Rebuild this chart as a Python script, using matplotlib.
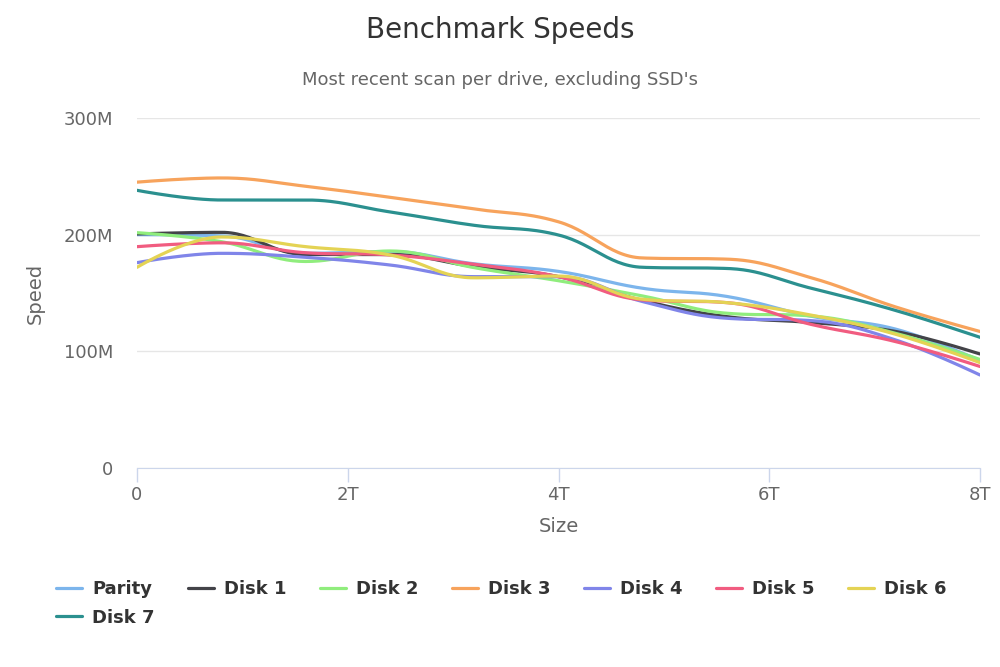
import numpy as np
import matplotlib
matplotlib.use("Agg")
import matplotlib.pyplot as plt

# scan positions (TB) and speeds (MB/s)
sizes = [0, 0.8, 1.6, 2.4, 3.2, 4.0, 4.8, 5.6, 6.4, 7.2, 8.0]

parity = [200, 199, 184, 185.5, 175, 168.5, 154, 147, 130, 119, 92]
disk1 = [200.6, 202, 183, 183, 172.6, 164, 143.5, 129.7, 124.6, 117, 97.7]
disk2 = [201.7, 194, 177, 186, 171.7, 160.5, 147.4, 132.6, 130.3, 115.4, 93]
disk3 = [245, 248.6, 241.5, 232, 222, 211, 180, 179, 163, 138, 117]
disk4 = [176, 184, 180.6, 174, 164, 164, 142.6, 128.3, 126.3, 109.7, 79.7]
disk5 = [189.7, 193, 184.5, 182.6, 174.6, 164, 144, 141.7, 123, 108.3, 87]
disk6 = [172, 198, 189.7, 182.6, 163, 164.5, 144.6, 141.7, 131, 114.6, 90.3]
disk7 = [238, 229.7, 229.7, 219.5, 208, 199.7, 172, 171, 154, 135, 112]

names = ["Parity", "Disk 1", "Disk 2", "Disk 3", "Disk 4", "Disk 5", "Disk 6", "Disk 7"]
series = [parity, disk1, disk2, disk3, disk4, disk5, disk6, disk7]
colors = ["#7cb5ec", "#434348", "#90ed7d", "#f7a35c", "#8085e9", "#f15c80", "#e4d354", "#2b908f"]


def splinePath(xs, ys, steps=30):
    # highcharts style spline: bezier segments with smoothing 1.5
    xs = np.asarray(xs, float)
    ys = np.asarray(ys, float)
    n = len(xs)
    smoothing = 1.5
    denom = smoothing + 1
    leftC = [(xs[0], ys[0])]
    rightC = [(xs[0], ys[0])]
    for i in range(1, n - 1):
        px, py = xs[i], ys[i]
        lx, ly = xs[i - 1], ys[i - 1]
        nx, ny = xs[i + 1], ys[i + 1]
        lcx = (smoothing * px + lx) / denom
        lcy = (smoothing * py + ly) / denom
        rcx = (smoothing * px + nx) / denom
        rcy = (smoothing * py + ny) / denom
        if rcx != lcx:
            corr = ((rcy - lcy) * (rcx - px)) / (rcx - lcx) + py - rcy
            lcy += corr
            rcy += corr
        if lcy > ly and lcy > py:
            lcy = max(ly, py)
            rcy = 2 * py - lcy
        elif lcy < ly and lcy < py:
            lcy = min(ly, py)
            rcy = 2 * py - lcy
        if rcy > ny and rcy > py:
            rcy = max(ny, py)
            lcy = 2 * py - rcy
        elif rcy < ny and rcy < py:
            rcy = min(ny, py)
            lcy = 2 * py - rcy
        leftC.append((lcx, lcy))
        rightC.append((rcx, rcy))
    leftC.append((xs[-1], ys[-1]))
    rightC.append((xs[-1], ys[-1]))

    outX, outY = [], []
    t = np.linspace(0, 1, steps)
    for i in range(n - 1):
        p0 = np.array([xs[i], ys[i]])
        p1 = np.array(rightC[i])
        p2 = np.array(leftC[i + 1])
        p3 = np.array([xs[i + 1], ys[i + 1]])
        b = ((1 - t) ** 3)[:, None] * p0 + (3 * (1 - t) ** 2 * t)[:, None] * p1 \
            + (3 * (1 - t) * t ** 2)[:, None] * p2 + (t ** 3)[:, None] * p3
        outX.extend(b[:, 0])
        outY.extend(b[:, 1])
    return outX, outY


fig = plt.figure(figsize=(10, 6.67), dpi=100)
ax = fig.add_axes([0.137, 0.2984, 0.843, 0.5247])

lines = []
for name, vals, col in zip(names, series, colors):
    sx, sy = splinePath(sizes, vals)
    ln, = ax.plot(sx, sy, color=col, lw=2.3, label=name, solid_capstyle="round")
    lines.append(ln)

ax.set_xlim(0, 8)
ax.set_ylim(0, 300)
ax.set_xticks([0, 2, 4, 6, 8])
ax.set_xticklabels(["0", "2T", "4T", "6T", "8T"])
ax.set_yticks([0, 100, 200, 300])
ax.set_yticklabels(["0", "100M", "200M", "300M"])
ax.grid(axis="y", color="#e6e6e6", lw=1)
ax.set_axisbelow(True)
for s in ["top", "right", "left"]:
    ax.spines[s].set_visible(False)
ax.spines["bottom"].set_color("#ccd6eb")
ax.tick_params(axis="x", colors="#ccd6eb", length=10, width=1, labelcolor="#666666", labelsize=13, pad=3)
ax.tick_params(axis="y", length=0, labelcolor="#666666", labelsize=13, pad=17)
ax.set_xlabel("Size", color="#666666", fontsize=14, labelpad=9.5)
ax.set_ylabel("Speed", color="#666666", fontsize=14, labelpad=14)

fig.text(0.5, 0.955, "Benchmark Speeds", ha="center", va="center", fontsize=20, color="#333333")
fig.text(0.5, 0.88, "Most recent scan per drive, excluding SSD's", ha="center", va="center",
         fontsize=13, color="#666666")

# legend fills columns first, so reorder to get highcharts' row layout
order = [0, 7, 1, 2, 3, 4, 5, 6]
leg = fig.legend([lines[i] for i in order], [names[i] for i in order],
                 loc="upper left", bbox_to_anchor=(0.04, 0.155), ncol=7, frameon=False,
                 handlelength=1.4, handletextpad=0.6, columnspacing=1.85,
                 prop={"weight": "bold", "size": 13}, labelspacing=0.6)
for t in leg.get_texts():
    t.set_color("#333333")

fig.savefig("out.png", dpi=100, facecolor="white")
